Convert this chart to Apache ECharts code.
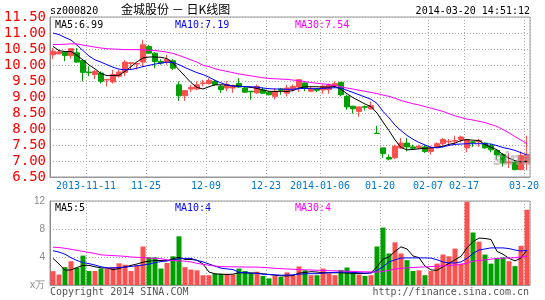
<!DOCTYPE html>
<html><head><meta charset="utf-8">
<script src="https://cdn.jsdelivr.net/npm/echarts@6/dist/echarts.min.js"></script>
<style>html,body{margin:0;padding:0;background:#fff}#c{width:545px;height:300px}</style>
</head><body><div id="c"></div>
<script>
// ---- data ----
const labelIdx = [6,16,26,36,45,55,63,69,79];
const labelText = ['2013-11-11','11-25','12-09','12-23','2014-01-06','01-20','02-07','02-17','03-20'];

const opens = [10.32,10.35,10.40,10.29,10.38,10.14,9.78,9.70,9.75,9.53, 9.47,9.65,9.77,10.05,10.03,10.09,10.58,10.37,10.11,10.09, 10.13,9.38,9.04,9.25,9.25,9.42,9.42,9.49,9.33,9.28, 9.28,9.42,9.28,9.18,9.13,9.22,9.15,9.02,9.25,9.12, 9.25,9.31,9.44,9.18,9.25,9.22,9.23,9.35,9.46,9.02, 8.71,8.55,8.70,8.63,7.87,7.41,7.11,7.10,7.41,7.56, 7.44,7.41,7.44,7.30,7.44,7.54,7.60,7.62,7.67,7.41, 7.60,7.60,7.56,7.48,7.33,7.20,6.94,6.96,6.73,6.94];
const closes = [10.43,10.41,10.30,10.51,10.09,9.77,9.76,9.80,9.49,9.55, 9.70,9.78,10.09,10.07,10.05,10.63,10.37,10.11,10.06,10.17, 9.90,9.04,9.20,9.30,9.38,9.44,9.52,9.39,9.23,9.39, 9.35,9.31,9.15,9.16,9.33,9.12,9.07,9.18,9.21,9.28, 9.33,9.54,9.28,9.25,9.21,9.34,9.38,9.42,9.07,8.69, 8.63,8.69,8.68,8.73,7.86,7.23,7.06,7.46,7.56,7.44, 7.40,7.46,7.30,7.41,7.54,7.67,7.62,7.64,7.75,7.67, 7.58,7.64,7.41,7.35,7.19,6.94,6.97,6.73,7.17,7.20];
const lows = [10.19,10.33,10.12,10.19,10.07,9.49,9.65,9.56,9.42,9.33, 9.42,9.60,9.65,9.87,9.86,9.96,10.35,9.90,10.01,10.01, 9.85,8.88,8.88,9.15,9.21,9.33,9.39,9.35,9.13,9.18, 9.13,9.28,9.13,8.92,9.10,9.10,9.05,8.92,9.07,9.02, 9.18,9.15,9.18,9.15,9.15,9.10,9.10,9.28,9.02,8.60, 8.48,8.38,8.58,8.60,7.86,7.10,7.02,7.06,7.38,7.30, 7.35,7.38,7.25,7.20,7.41,7.44,7.48,7.51,7.58,7.27, 7.44,7.44,7.38,7.27,7.04,6.83,6.78,6.71,6.71,6.71];
const highs = [10.53,10.46,10.42,10.53,10.53,10.17,9.96,9.85,9.80,9.55, 9.85,9.85,10.15,10.08,10.06,10.79,10.63,10.40,10.18,10.32, 10.18,9.49,9.20,9.38,9.49,9.54,9.59,9.54,9.39,9.49, 9.39,9.59,9.33,9.18,9.39,9.30,9.18,9.28,9.28,9.38, 9.39,9.56,9.46,9.33,9.28,9.39,9.42,9.49,9.46,9.07, 8.73,8.71,8.73,8.86,8.10,7.41,7.20,7.51,7.72,7.72, 7.51,7.51,7.51,7.46,7.58,7.72,7.69,7.79,7.79,7.69, 7.61,7.69,7.58,7.54,7.35,7.25,7.25,6.99,7.30,7.79];

const ma5 = [10.58,10.45,10.42,10.42,10.30,10.16,10.00,9.88,9.73,9.67, 9.67,9.68,9.80,9.95,10.10,10.22,10.25,10.25,10.24,10.20, 10.06,9.85,9.65,9.45,9.30,9.25,9.32,9.38,9.38,9.37, 9.35,9.34,9.32,9.30,9.27,9.22,9.18,9.17,9.18,9.17, 9.20,9.28,9.32,9.32,9.32,9.31,9.31,9.33,9.24,9.10, 8.98,8.88,8.78,8.70,8.50,8.22,7.95,7.66,7.42,7.35, 7.36,7.38,7.40,7.41,7.43,7.46,7.52,7.56,7.64,7.67, 7.65,7.64,7.51,7.43,7.35,7.20,7.09,7.01,6.97,6.99];
const ma10 = [11.00,10.95,10.86,10.78,10.62,10.45,10.28,10.16,10.09,10.01, 9.93,9.87,9.85,9.86,9.90,9.95,9.99,10.03,10.06,10.09, 10.08,10.01,9.92,9.84,9.76,9.70,9.62,9.52,9.44,9.38, 9.34,9.33,9.33,9.32,9.31,9.28,9.26,9.25,9.25,9.24, 9.24,9.26,9.27,9.26,9.26,9.27,9.28,9.29,9.28,9.21, 9.14,9.07,9.00,8.93,8.80,8.55,8.35,8.12,7.95,7.80, 7.68,7.58,7.50,7.43,7.41,7.44,7.49,7.52,7.53,7.54, 7.54,7.54,7.54,7.53,7.48,7.42,7.38,7.33,7.26,7.19];
const ma30 = [10.64,10.64,10.65,10.66,10.66,10.62,10.59,10.56,10.53,10.51, 10.50,10.49,10.48,10.48,10.48,10.47,10.46,10.45,10.43,10.40, 10.36,10.30,10.23,10.16,10.09,9.99,9.95,9.88,9.84,9.80, 9.76,9.72,9.69,9.66,9.63,9.60,9.58,9.57,9.56,9.55, 9.53,9.51,9.48,9.45,9.43,9.41,9.39,9.36,9.32,9.28, 9.25,9.21,9.18,9.14,9.11,9.06,9.02,8.96,8.89,8.84, 8.79,8.75,8.70,8.65,8.60,8.55,8.48,8.41,8.36,8.31, 8.28,8.24,8.20,8.14,8.08,7.98,7.88,7.76,7.65,7.54];

const vol = [1.98,1.5,2.55,3.4,2.45,4.2,2.0,2.0,2.35,2.35, 2.55,3.1,2.9,2.0,2.8,5.5,3.95,3.95,2.35,3.15, 4.1,6.95,2.55,2.2,2.1,1.4,1.4,1.6,1.6,1.6, 1.5,2.35,2.0,1.75,1.9,1.3,0.95,1.3,1.15,1.8, 1.4,2.65,2.1,1.4,1.4,2.35,1.65,1.4,2.15,2.5, 1.9,1.5,1.3,1.4,5.5,8.2,4.5,6.1,4.5,3.55, 2.0,2.1,1.4,2.0,3.05,4.35,4.1,5.2,3.05,11.9, 7.5,6.2,4.35,3.05,3.85,3.95,3.4,2.7,5.6,10.75];
const vma5 = [3.8,3.0,2.1,2.15,2.5,2.8,2.8,2.6,2.45,2.45, 2.2,2.35,2.6,2.8,3.0,3.25,3.4,3.5,3.5,3.45, 3.75,3.95,3.65,3.65,3.55,3.0,1.85,1.6,1.55,1.5, 1.55,1.75,1.75,1.7,1.7,1.6,1.5,1.4,1.3,1.3, 1.35,1.7,1.8,1.9,1.85,1.75,1.75,1.75,1.75,1.7, 1.65,1.65,1.65,1.75,2.6,3.7,4.0,4.8,5.45,5.15, 4.15,3.9,2.7,2.15,2.1,2.6,3.1,3.6,4.1,5.3, 6.2,6.7,6.65,6.5,4.8,4.4,3.8,3.45,3.85,5.0];
const vma10 = [4.9,4.7,4.4,3.9,3.5,3.2,3.05,2.85,2.6,2.45, 2.45,2.5,2.55,2.65,2.75,2.85,3.0,3.2,3.35,3.45, 3.55,3.75,3.8,3.8,3.5,3.3,3.0,2.7,2.4,2.3, 2.2,1.8,1.75,1.7,1.65,1.55,1.5,1.45,1.4,1.42, 1.45,1.55,1.6,1.62,1.62,1.7,1.75,1.8,1.85,1.85, 1.8,1.75,1.7,1.7,2.1,2.6,3.3,3.6,3.85,3.87, 3.87,3.87,3.87,3.85,3.6,3.3,3.15,3.15,3.3,3.8, 4.5,5.0,5.15,5.3,5.3,5.3,5.2,5.0,4.85,4.95];
const vma30 = [5.4,5.35,5.25,5.1,4.95,4.8,4.65,4.5,4.3,4.25, 4.2,4.15,4.1,4.0,3.95,3.92,3.85,3.8,3.75,3.6, 3.5,3.45,3.4,3.3,3.1,2.95,2.82,2.7,2.63,2.6, 2.6,2.58,2.57,2.56,2.55,2.52,2.45,2.38,2.33,2.3, 2.25,2.2,2.17,2.14,2.11,2.08,2.05,2.02,2.0,1.97, 1.94,1.9,1.88,1.86,1.85,1.95,2.1,2.28,2.38,2.45, 2.5,2.55,2.6,2.63,2.68,2.72,2.78,2.85,2.95,3.15, 3.4,3.5,3.6,3.7,3.8,3.83,3.86,3.9,4.0,4.1];

const priceMin = 6.5, priceMax = 11.5, priceStep = 0.5;
const volMin = 0, volMax = 12, volStep = 4;

// ---- build ----
const UP = '#ff5050', DOWN = '#00a000';
const mono = '"DejaVu Sans Mono", monospace';
const cats = opens.map((_, i) => String(i));
const labelMap = {};
labelIdx.forEach((k, j) => labelMap[k] = labelText[j]);
const isMark = (i) => labelMap[i] !== undefined;
const kData = opens.map((o, i) => [o, closes[i], lows[i], highs[i]]);
const vData = vol.map((v, i) => ({ value: v, itemStyle: { color: closes[i] >= opens[i] ? UP : DOWN } }));
const dotted = { color: '#aaaaaa', type: [1, 2], width: 1 };

const chart = echarts.init(document.getElementById('c'));
const lineS = (name, data, color, xi, yi) => ({
  name, type: 'line', data, xAxisIndex: xi, yAxisIndex: yi, showSymbol: false, symbol: 'none',
  lineStyle: { color, width: 1 }, itemStyle: { color }, z: 5, silent: true
});
const txt = (opt) => ({ type: 'text', silent: true, ...opt });

chart.setOption({
  animation: false,
  backgroundColor: '#ffffff',
  grid: [
    { left: 50, top: 17, width: 480, height: 160, show: true, borderColor: '#999', borderWidth: 1, backgroundColor: 'transparent' },
    { left: 50, top: 201, width: 480, height: 84, show: true, borderColor: '#999', borderWidth: 1, backgroundColor: 'transparent' }
  ],
  xAxis: [
    { type: 'category', gridIndex: 0, data: cats, boundaryGap: true,
      axisLine: { lineStyle: { color: '#999' } }, axisTick: { show: false },
      axisLabel: { interval: (i) => isMark(i), formatter: (v, i) => labelMap[i] || '',
        color: '#0077cc', fontFamily: mono, fontSize: 10, margin: 4, padding: [0, 6, 0, 0] },
      splitLine: { show: true, interval: (i) => isMark(i), lineStyle: dotted } },
    { type: 'category', gridIndex: 1, data: cats, boundaryGap: true,
      axisLine: { lineStyle: { color: '#999' } }, axisTick: { show: false }, axisLabel: { show: false },
      splitLine: { show: true, interval: (i) => isMark(i), lineStyle: dotted } }
  ],
  yAxis: [
    { type: 'value', gridIndex: 0, min: priceMin, max: priceMax, interval: priceStep, scale: true,
      axisLine: { show: true, lineStyle: { color: '#888' } }, axisTick: { show: false },
      axisLabel: { color: '#ff0000', fontFamily: mono, fontSize: 14, margin: 4, formatter: (v) => v.toFixed(2) },
      splitLine: { show: true, lineStyle: dotted } },
    { type: 'value', gridIndex: 1, min: volMin, max: volMax, interval: volStep,
      axisLine: { show: true, lineStyle: { color: '#888' } }, axisTick: { show: false },
      axisLabel: { color: '#888', fontFamily: 'Liberation Sans, sans-serif', fontSize: 10, margin: 5,
        formatter: (v) => v === 0 ? 'x万' : String(v) },
      splitLine: { show: true, lineStyle: dotted } }
  ],
  series: [
    { type: 'candlestick', name: 'K', xAxisIndex: 0, yAxisIndex: 0, data: kData, barWidth: 5,
      itemStyle: { color: UP, color0: DOWN, borderColor: UP, borderColor0: DOWN, borderWidth: 1 }, z: 3 },
    lineS('MA5', ma5, '#000000', 0, 0),
    lineS('MA10', ma10, '#0000ff', 0, 0),
    lineS('MA30', ma30, '#ff00ff', 0, 0),
    { type: 'bar', name: 'VOL', xAxisIndex: 1, yAxisIndex: 1, data: vData, barWidth: 5, z: 3 },
    lineS('VMA5', vma5, '#000000', 1, 1),
    lineS('VMA10', vma10, '#0000ff', 1, 1),
    lineS('VMA30', vma30, '#ff00ff', 1, 1)
  ],
  graphic: [
    txt({ left: 493, top: 152, z: 20, style: { text: 'sina', fill: 'rgba(165,165,165,0.6)', font: 'italic bold 17px "DejaVu Sans", sans-serif' } }),
    txt({ left: 50, top: 6, style: { text: 'sz000820', fill: '#000', font: '10px ' + mono } }),
    txt({ left: 121, top: 3, style: { text: '金城股份 － 日K线图', fill: '#000', font: '12px "Noto Sans CJK SC", sans-serif' } }),
    txt({ right: 15, top: 6, style: { text: '2014-03-20 14:51:12', fill: '#000', font: '10px ' + mono } }),
    txt({ left: 55, top: 20, style: { text: 'MA5:6.99', fill: '#000', font: '10px ' + mono } }),
    txt({ left: 175, top: 20, style: { text: 'MA10:7.19', fill: '#0000ff', font: '10px ' + mono } }),
    txt({ left: 295, top: 20, style: { text: 'MA30:7.54', fill: '#ff00ff', font: '10px ' + mono } }),
    txt({ left: 55, top: 203, style: { text: 'MA5:5', fill: '#000', font: '10px ' + mono } }),
    txt({ left: 175, top: 203, style: { text: 'MA10:4', fill: '#0000ff', font: '10px ' + mono } }),
    txt({ left: 295, top: 203, style: { text: 'MA30:4', fill: '#ff00ff', font: '10px ' + mono } }),
    txt({ left: 50, top: 287, style: { text: 'Copyright 2014 SINA.COM', fill: '#555', font: '10px ' + mono } }),
    txt({ right: 16, top: 287, style: { text: 'http://finance.sina.com.cn', fill: '#555', font: '10px ' + mono } })
  ]
});
</script>
</body></html>
